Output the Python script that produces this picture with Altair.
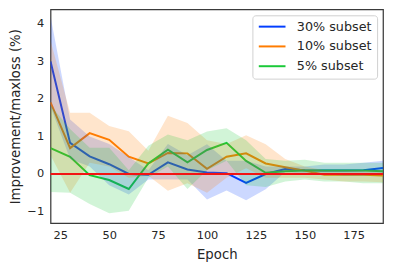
import altair as alt
import pandas as pd

epochs = [20, 30, 40, 50, 60, 70, 80, 90, 100, 110, 120, 130, 140, 150, 160, 170, 180, 190]
series_names = ["30% subset", "10% subset", "5% subset"]
series_colors = ["#023eff", "#ff7c00", "#1ac938"]

mean_30 = [3.0, 0.83, 0.47, 0.26, 0.0, -0.02, 0.31, 0.12, 0.04, 0.02, -0.24, 0.0, 0.13, 0.1, 0.09, 0.09, 0.1, 0.16]
low_30 = [1.8, 0.4, 0.2, -0.3, -0.55, -0.15, -0.15, -0.15, -0.68, -0.44, -0.7, -0.41, 0.05, 0.0, 0.0, -0.05, -0.05, 0.0]
up_30 = [4.2, 1.45, 1.0, 0.8, 0.45, 0.1, 0.8, 0.5, 0.79, 0.35, 0.35, 0.2, 0.2, 0.2, 0.25, 0.25, 0.3, 0.35]

mean_10 = [1.91, 0.69, 1.09, 0.91, 0.46, 0.28, 0.56, 0.55, 0.14, 0.46, 0.55, 0.28, 0.18, 0.09, -0.02, -0.02, -0.02, -0.04]
low_10 = [0.5, -0.5, 0.3, 0.2, -0.1, -0.05, -0.45, -0.25, -0.5, -0.1, 0.15, -0.1, -0.1, -0.1, -0.15, -0.2, -0.2, -0.22]
up_10 = [3.55, 1.63, 1.63, 1.28, 1.14, 0.62, 1.55, 1.36, 0.9, 0.8, 1.03, 0.79, 0.4, 0.2, 0.1, 0.1, 0.1, 0.1]

mean_5 = [0.69, 0.46, -0.03, -0.16, -0.4, 0.28, 0.65, 0.31, 0.64, 0.83, 0.35, 0.03, 0.07, 0.09, 0.09, 0.09, 0.09, 0.07]
low_5 = [-0.48, -0.5, -0.8, -1.05, -0.98, -0.1, 0.2, -0.4, 0.1, 0.35, -0.3, -0.35, -0.2, -0.15, -0.2, -0.2, -0.25, -0.25]
up_5 = [1.83, 1.2, 0.7, 0.7, 0.1, 0.75, 1.05, 0.9, 1.13, 1.22, 0.9, 0.4, 0.35, 0.38, 0.3, 0.3, 0.3, 0.3]

rows = []
for name, m, lo, hi in zip(series_names, [mean_30, mean_10, mean_5], [low_30, low_10, low_5], [up_30, up_10, up_5]):
    for e, a, b, c in zip(epochs, m, lo, hi):
        rows.append({"epoch": e, "series": name, "mean": a, "lower": b, "upper": c})
df = pd.DataFrame(rows)

ref_df = pd.DataFrame({"y": [0]})

FONT = "DejaVu Sans"
x_scale = alt.Scale(domain=[20, 190], nice=False, zero=False)
y_scale = alt.Scale(domain=[-1.31, 4.39], nice=False, zero=False)

legend = alt.Legend(title=None, orient="top-right", offset=6,
                    fillColor="white", strokeColor="#d0d0d0",
                    cornerRadius=3, padding=5,
                    symbolType="M-1,0H4.4", symbolSize=100,
                    symbolStrokeWidth=2, symbolOpacity=1,
                    labelFontSize=12.9,
                    labelFont=FONT, labelColor="#262626",
                    labelOffset=27, rowPadding=6)
color = alt.Color("series:N", scale=alt.Scale(domain=series_names, range=series_colors),
                  sort=series_names, legend=legend)

x_enc = alt.X("epoch:Q", scale=x_scale,
              axis=alt.Axis(values=[25, 50, 75, 100, 125, 150, 175], title="Epoch"))
y_axis = alt.Axis(values=[-1, 0, 1, 2, 3, 4], title="Improvement/maxloss (%)")

lines = alt.Chart(df).mark_line(strokeWidth=2, clip=True).encode(
    x=x_enc,
    y=alt.Y("mean:Q", scale=y_scale, axis=y_axis),
    color=color,
)

bands = alt.Chart(df).mark_area(opacity=0.2, clip=True).encode(
    x=alt.X("epoch:Q", scale=x_scale),
    y=alt.Y("lower:Q", scale=y_scale),
    y2="upper:Q",
    color=color,
)

ref = alt.Chart(ref_df).mark_rule(color="#f21414", strokeWidth=2.2).encode(
    y=alt.Y("y:Q", scale=y_scale)
)

chart = alt.layer(lines, bands, ref).properties(
    width=336, height=216,
    autosize=alt.AutoSizeParams(type="none"),
    padding={"left": 43, "top": 0, "right": 2, "bottom": 45},
).configure_view(
    stroke="#3a3a3a", strokeWidth=1.25
).configure_axis(
    grid=False, domain=False, ticks=False, tickSize=0,
    labelFont=FONT, titleFont=FONT, labelFontSize=11.5, titleFontSize=13.4,
    labelColor="#262626", titleColor="#262626", titleFontWeight="normal",
    labelPadding=7,
).configure_axisX(
    titlePadding=6,
).configure_axisY(
    titlePadding=4,
)

chart.save("out.html", embed_options={"renderer": "svg", "actions": False})
